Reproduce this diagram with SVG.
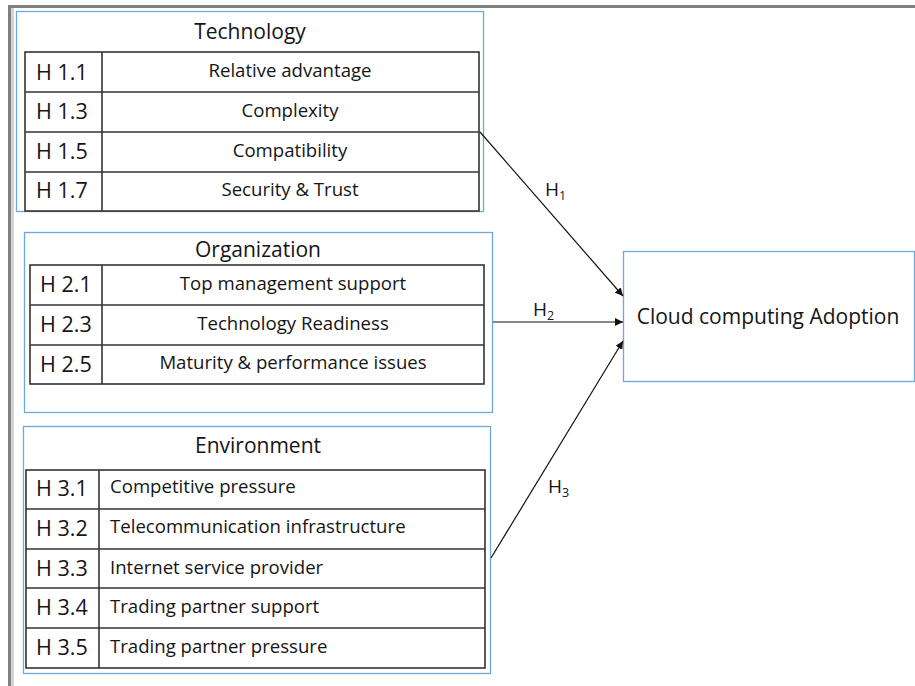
<svg xmlns="http://www.w3.org/2000/svg" width="915" height="686" viewBox="0 0 915 686">
<defs>
<style>
text{font-family:"Open Sans","Noto Sans","Liberation Sans",sans-serif;fill:#151515}
.grp{fill:none;stroke:#6fa8dc;stroke-width:1.3}
.cell{fill:none;stroke:#333;stroke-width:1.6}
.title{font-size:21px;text-anchor:middle}
.code{font-size:21.5px}
.item{font-size:18.6px}
.ctr{text-anchor:middle}
.conn{stroke:#111;stroke-width:1.2;fill:none;marker-end:url(#ah)}
.hl{font-size:19px}
.sub{font-size:12.5px}
</style>
<marker id="ah" viewBox="0 0 10 10" refX="10" refY="5" markerWidth="8" markerHeight="8" markerUnits="userSpaceOnUse" orient="auto">
<path d="M0,0 L10,5 L0,10 z" fill="#111"/>
</marker>
</defs>
<rect x="0" y="0" width="915" height="686" fill="#fff"/>
<rect x="8" y="5" width="907" height="3" fill="#808080"/>
<rect x="8" y="5" width="3" height="681" fill="#808080"/>
<rect x="11" y="8" width="3" height="678" fill="#d4d4d4"/>

<g id="technology">
<rect class="grp" x="16.5" y="11.5" width="467" height="200"/>
<text class="title" x="250" y="39">Technology</text>
<rect class="cell" x="25" y="52" width="454" height="159"/>
<line class="cell" x1="102" y1="52" x2="102" y2="211"/>
<line class="cell" x1="25" y1="92" x2="479" y2="92"/>
<line class="cell" x1="25" y1="132" x2="479" y2="132"/>
<line class="cell" x1="25" y1="172" x2="479" y2="172"/>
<text class="code" x="36" y="80">H 1.1</text>
<text class="code" x="36" y="119">H 1.3</text>
<text class="code" x="36" y="159">H 1.5</text>
<text class="code" x="36" y="198">H 1.7</text>
<text class="item ctr" x="290" y="77">Relative advantage</text>
<text class="item ctr" x="290" y="117">Complexity</text>
<text class="item ctr" x="290" y="157">Compatibility</text>
<text class="item ctr" x="290" y="196">Security &amp; Trust</text>
</g>

<g id="organization">
<rect class="grp" x="24.5" y="232.5" width="468" height="180"/>
<text class="title" x="258" y="257">Organization</text>
<rect class="cell" x="30" y="265" width="454" height="119"/>
<line class="cell" x1="102" y1="265" x2="102" y2="384"/>
<line class="cell" x1="30" y1="305" x2="484" y2="305"/>
<line class="cell" x1="30" y1="345" x2="484" y2="345"/>
<text class="code" x="40" y="292">H 2.1</text>
<text class="code" x="40" y="332">H 2.3</text>
<text class="code" x="40" y="372">H 2.5</text>
<text class="item ctr" x="293" y="290">Top management support</text>
<text class="item ctr" x="293" y="330">Technology Readiness</text>
<text class="item ctr" x="293" y="369">Maturity &amp; performance issues</text>
</g>

<g id="environment">
<rect class="grp" x="23.5" y="426.5" width="467" height="247"/>
<text class="title" x="258" y="453">Environment</text>
<rect class="cell" x="26" y="470" width="459" height="198"/>
<line class="cell" x1="99" y1="470" x2="99" y2="668"/>
<line class="cell" x1="26" y1="509" x2="485" y2="509"/>
<line class="cell" x1="26" y1="549" x2="485" y2="549"/>
<line class="cell" x1="26" y1="588" x2="485" y2="588"/>
<line class="cell" x1="26" y1="628" x2="485" y2="628"/>
<text class="code" x="36" y="496">H 3.1</text>
<text class="code" x="36" y="536">H 3.2</text>
<text class="code" x="36" y="576">H 3.3</text>
<text class="code" x="36" y="615">H 3.4</text>
<text class="code" x="36" y="655">H 3.5</text>
<text class="item" x="110" y="493">Competitive pressure</text>
<text class="item" x="110" y="533">Telecommunication infrastructure</text>
<text class="item" x="110" y="574">Internet service provider</text>
<text class="item" x="110" y="613">Trading partner support</text>
<text class="item" x="110" y="653">Trading partner pressure</text>
</g>

<g id="adoption">
<rect class="grp" x="623.5" y="251.5" width="291" height="130"/>
<text x="768" y="324" text-anchor="middle" font-size="21">Cloud computing Adoption</text>
</g>

<g id="connectors">
<line class="conn" x1="480" y1="132" x2="623" y2="296"/>
<line class="conn" x1="493" y1="322" x2="623" y2="322"/>
<line class="conn" x1="491" y1="558" x2="623" y2="341"/>
<text class="hl" x="545" y="196">H<tspan class="sub" dy="4">1</tspan></text>
<text class="hl" x="533" y="316">H<tspan class="sub" dy="4">2</tspan></text>
<text class="hl" x="548" y="493">H<tspan class="sub" dy="4">3</tspan></text>
</g>
</svg>
